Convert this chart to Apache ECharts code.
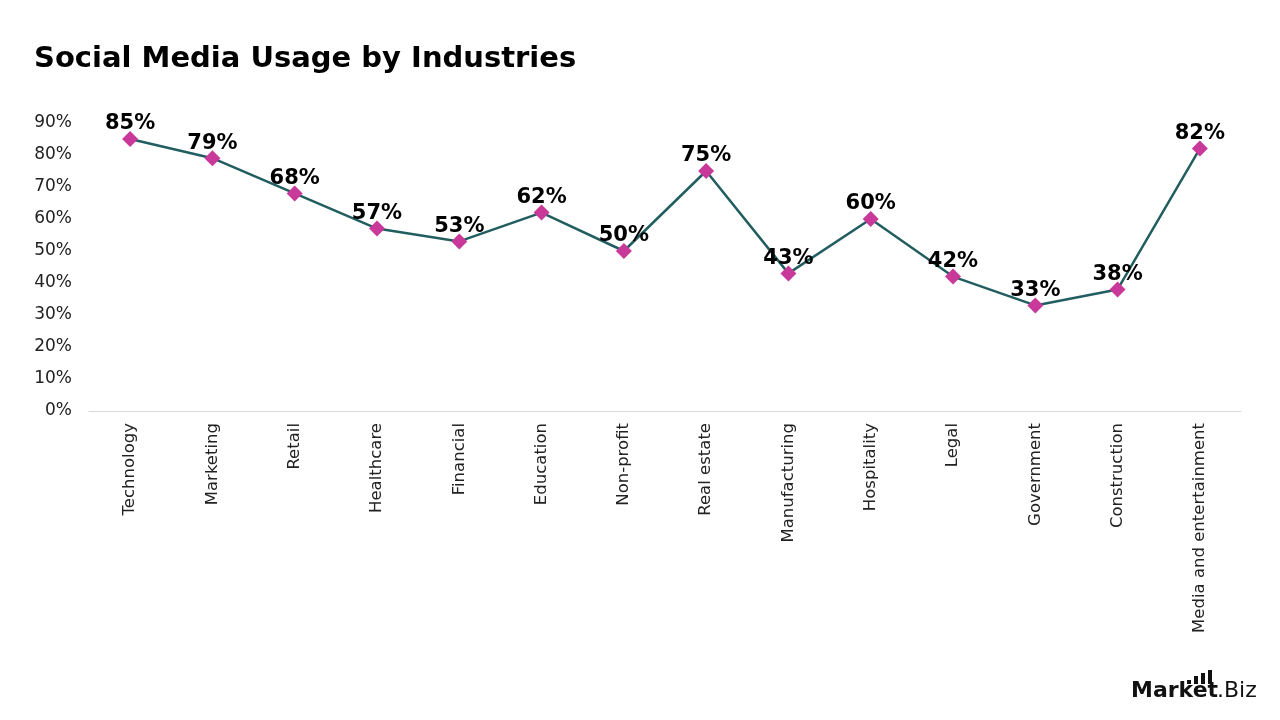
<!DOCTYPE html>
<html><head><meta charset="utf-8">
<script src="https://cdn.jsdelivr.net/npm/echarts@6/dist/echarts.min.js"></script>
<style>html,body{margin:0;padding:0;background:#fff}#c{width:1280px;height:720px}</style>
</head><body><div id="c"></div>
<script>
const categories = ["Technology","Marketing","Retail","Healthcare","Financial","Education","Non-profit","Real estate","Manufacturing","Hospitality","Legal","Government","Construction","Media and entertainment"];
const usage = [85,79,68,57,53,62,50,75,43,60,42,33,38,82];
const yTicks = [0,10,20,30,40,50,60,70,80,90];

const chart = echarts.init(document.getElementById('c'));
chart.setOption({
  animation:false,
  title:{text:"Social Media Usage by Industries",left:29,top:40,textStyle:{fontFamily:"DejaVu Sans",fontWeight:"bold",fontSize:29,color:"#000"}},
  grid:{left:89,right:39,top:123,bottom:309},
  xAxis:{type:"category",data:categories,boundaryGap:true,
    axisLine:{lineStyle:{color:"#d9d9d9",width:1}},axisTick:{show:false},
    axisLabel:{rotate:90,interval:0,margin:12,fontFamily:"DejaVu Sans",fontSize:16.5,color:"#222"}},
  yAxis:{type:"value",min:0,max:90,interval:10,splitLine:{show:false},axisLine:{show:false},axisTick:{show:false},
    axisLabel:{formatter:v=>v+"%",margin:17,fontFamily:"DejaVu Sans",fontSize:17,color:"#222"}},
  series:[{type:"line",data:usage,symbol:"diamond",symbolSize:16,
    lineStyle:{color:"#225e60",width:2.5},itemStyle:{color:"#c8399a"},
    label:{show:true,position:"top",distance:-4,lineHeight:22,formatter:p=>p.value+"%",fontFamily:"DejaVu Sans",fontWeight:"bold",fontSize:21,color:"#000"}}],
  graphic:[
    {type:"text",left:1131,top:680,style:{text:"Market",font:"bold 22px 'DejaVu Sans'",fill:"#111"}},
    {type:"text",left:1217,top:680,style:{text:".Biz",font:"22px 'DejaVu Sans'",fill:"#111"}},
    {type:"rect",shape:{x:1187,y:680,width:4,height:4},style:{fill:"#111"}},
    {type:"rect",shape:{x:1194,y:676,width:4,height:8},style:{fill:"#111"}},
    {type:"rect",shape:{x:1201,y:673,width:4,height:11},style:{fill:"#111"}},
    {type:"rect",shape:{x:1208,y:670,width:4,height:14},style:{fill:"#111"}}
  ]
});
</script></body></html>
